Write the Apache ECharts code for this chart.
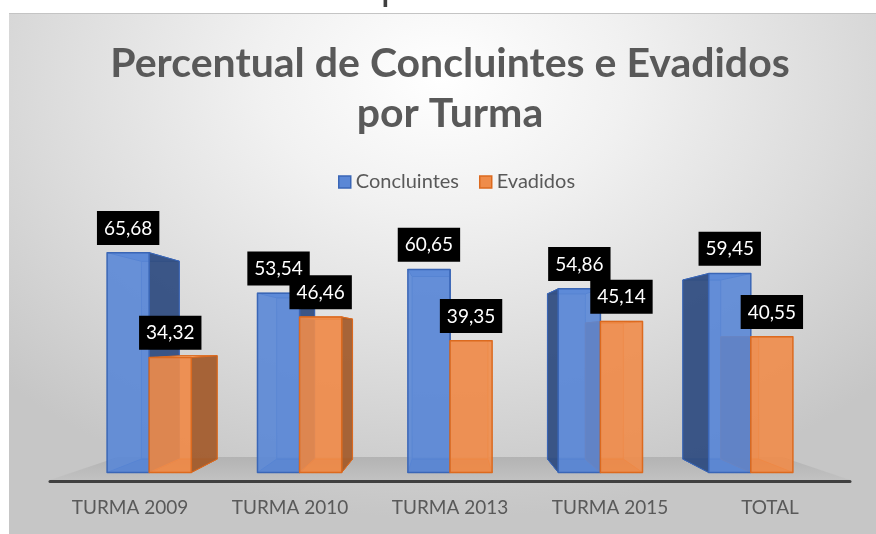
<!DOCTYPE html>
<html>
<head>
<meta charset="utf-8">
<script src="https://cdn.jsdelivr.net/npm/echarts@6/dist/echarts.min.js"></script>
<style>
  html, body { margin: 0; padding: 0; background: #ffffff; }
  #frame { position: absolute; left: 9px; top: 13px; width: 867px; height: 521px;
    background: radial-gradient(ellipse 70% 85% at 50% 12%, #ffffff 0%, #f1f1f1 30%, #dcdcdc 65%, #c6c6c6 100%);
    border-top: 1px solid #c4c4c4; box-sizing: border-box; }
  #chart { position: absolute; left: 0; top: 0; width: 876px; height: 534px; }
</style>
</head>
<body>
<div id="frame"></div>
<div id="chart"></div>
<script>
// ---- data ----
const categories = ['TURMA 2009', 'TURMA 2010', 'TURMA 2013', 'TURMA 2015', 'TOTAL'];
const concluintes = [65.68, 53.54, 60.65, 54.86, 59.45];
const evadidos = [34.32, 46.46, 39.35, 45.14, 40.55];
const seriesNames = ['Concluintes', 'Evadidos'];
const titleLines = ['Percentual de Concluintes e Evadidos', 'por Turma'];

// ---- styles ----
const FONT = 'Lato';
const TEXT_COLOR = '#595959';
const SCALE_FRONT = 0.94;   // perspective depth of bar front faces
const SCALE_BACK = 0.846;   // perspective depth of bar back faces
const VP_VALUE = 40;        // vanishing point height (in axis value units)
const BAR_FRAC = 0.28;      // bar width as fraction of category width
const STY = [
  { front: 'rgba(90,135,214,0.9)', edge: '#3A66B6', side: 'rgba(50,78,128,0.93)',
    back: 'rgba(90,135,214,0.35)', top: 'rgba(120,160,232,0.9)', bottom: 'rgba(60,95,160,0.55)' },
  { front: 'rgba(239,140,74,0.9)', edge: '#DC6A1F', side: 'rgba(162,92,46,0.93)',
    back: 'rgba(239,140,74,0.35)', top: 'rgba(245,170,110,0.9)', bottom: 'rgba(190,100,40,0.55)' }
];

function fmt(v) { return v.toFixed(2).replace('.', ','); }

function renderItem(params, api) {
  const cs = params.coordSys;
  const vpx = cs.x + cs.width / 2;
  const vpy = api.coord([0, VP_VALUE])[1];
  const cat = api.value(0);
  const base = api.coord([cat, 0]);
  const bw = api.size([1, 0])[0] * BAR_FRAC;
  const proj = (x, y, s) => [vpx + (x - vpx) * s, vpy + (y - vpy) * s];
  const bars = [
    { x0: base[0] - bw, x1: base[0], v: api.value(1), st: STY[0] },
    { x0: base[0], x1: base[0] + bw, v: api.value(2), st: STY[1] }
  ];
  const backs = [], mids = [], fronts = [];
  bars.forEach(b => {
    const yTop = api.coord([cat, b.v])[1];
    const yBot = base[1];
    const ftl = proj(b.x0, yTop, SCALE_FRONT), ftr = proj(b.x1, yTop, SCALE_FRONT);
    const fbl = proj(b.x0, yBot, SCALE_FRONT), fbr = proj(b.x1, yBot, SCALE_FRONT);
    const btl = proj(b.x0, yTop, SCALE_BACK), btr = proj(b.x1, yTop, SCALE_BACK);
    const bbl = proj(b.x0, yBot, SCALE_BACK), bbr = proj(b.x1, yBot, SCALE_BACK);
    const es = { stroke: b.st.edge, lineWidth: 1, lineJoin: 'round' };
    backs.push({ type: 'polygon', shape: { points: [btl, btr, bbr, bbl] },
      style: Object.assign({ fill: b.st.back }, es, { opacity: 0.8 }) });
    mids.push({ type: 'polygon', shape: { points: [fbl, fbr, bbr, bbl] },
      style: Object.assign({ fill: b.st.bottom }, es) });
    mids.push({ type: 'polygon', shape: { points: [ftl, ftr, btr, btl] },
      style: Object.assign({ fill: b.st.top }, es) });
    const center = (b.x0 + b.x1) / 2;
    const side = center < vpx ? [ftr, btr, bbr, fbr] : [ftl, btl, bbl, fbl];
    mids.push({ type: 'polygon', shape: { points: side },
      style: Object.assign({ fill: b.st.side }, es) });
    fronts.push({ type: 'polygon', z2: 10, shape: { points: [ftl, ftr, fbr, fbl] },
      style: { fill: b.st.front, stroke: b.st.edge, lineWidth: 1.5, lineJoin: 'round' },
      textContent: { type: 'text', z2: 20, style: {
        text: fmt(b.v), fill: '#ffffff', backgroundColor: '#000000',
        padding: [7, 7, 6, 7], font: '19px ' + FONT, lineHeight: 21 } },
      textConfig: { position: 'top', distance: 7 } });
  });
  return { type: 'group', children: backs.concat(mids, fronts) };
}

const chart = echarts.init(document.getElementById('chart'), null, { renderer: 'canvas' });
chart.setOption({
  backgroundColor: 'transparent',
  animation: false,
  textStyle: { fontFamily: FONT },
  graphic: [
    { type: 'text', x: 392, y: -13, z: 0, style: { text: 'p', font: '40px ' + FONT, fill: '#404040',
      align: 'center', verticalAlign: 'middle' } },
    { type: 'polygon', z: 1, shape: { points: [[47, 481], [853, 481], [782, 457], [118, 457]] },
      style: { fill: { type: 'linear', x: 0, y: 0, x2: 0, y2: 1,
        colorStops: [{ offset: 0, color: '#b3b3b3' }, { offset: 1, color: '#c2c2c2' }] } } },
    { type: 'text', x: 450, y: 39, z: 5, style: { text: titleLines.join('\n'),
      font: 'bold 41px ' + FONT, fill: TEXT_COLOR, align: 'center', verticalAlign: 'top', lineHeight: 50 } }
  ],
  legend: {
    left: 333, top: 167, itemWidth: 12, itemHeight: 12, itemGap: 20, icon: 'rect',
    textStyle: { color: TEXT_COLOR, fontSize: 20, fontFamily: FONT },
    data: [
      { name: seriesNames[0], itemStyle: { color: '#5A87D6', borderColor: '#3A66B6', borderWidth: 1.5 } },
      { name: seriesNames[1], itemStyle: { color: '#EF8C4A', borderColor: '#DC6A1F', borderWidth: 1.5 } }
    ]
  },
  grid: { left: 50, right: 26, top: 125, bottom: 53 },
  xAxis: {
    type: 'category', data: categories, z: 3,
    axisLine: { lineStyle: { color: '#404040', width: 3 } },
    axisTick: { show: false },
    axisLabel: { color: TEXT_COLOR, fontSize: 19, fontFamily: FONT, margin: 17 },
    splitLine: { show: false }
  },
  yAxis: { type: 'value', min: 0, max: 100, show: false, splitLine: { show: false } },
  series: [
    { type: 'custom', name: 'bars3d', renderItem: renderItem, z: 2,
      encode: { x: 0, y: [1, 2] },
      data: categories.map((c, i) => [i, concluintes[i], evadidos[i]]) },
    { type: 'bar', name: seriesNames[0], data: [], itemStyle: { color: '#5A87D6' } },
    { type: 'bar', name: seriesNames[1], data: [], itemStyle: { color: '#EF8C4A' } }
  ]
});
</script>
</body>
</html>
